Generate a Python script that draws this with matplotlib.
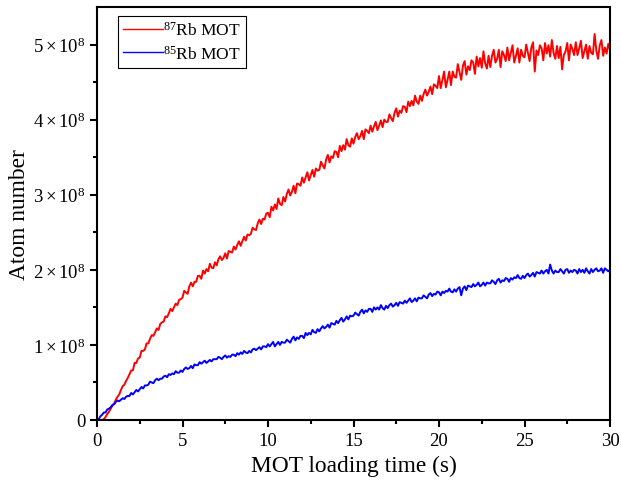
import numpy as np
import matplotlib
matplotlib.use("Agg")
import matplotlib.pyplot as plt
from matplotlib.ticker import FixedLocator, FuncFormatter

# time axis (s), 0.1 s sampling grid
time_s = [round(i * 0.1, 1) for i in range(301)]

# 87Rb MOT atom number (units of 1e8), one row per second
rb87 = [0.00, 0.00, 0.00, 0.00, 0.01, 0.04, 0.08, 0.11, 0.15, 0.19,
        0.22, 0.27, 0.31, 0.34, 0.40, 0.45, 0.47, 0.52, 0.56, 0.61,
        0.66, 0.66, 0.76, 0.76, 0.82, 0.83, 0.92, 0.92, 0.94, 1.02,
        1.02, 1.08, 1.13, 1.12, 1.17, 1.22, 1.20, 1.28, 1.30, 1.31,
        1.38, 1.37, 1.42, 1.48, 1.45, 1.50, 1.55, 1.53, 1.60, 1.61,
        1.63, 1.72, 1.70, 1.68, 1.78, 1.83, 1.78, 1.84, 1.84, 1.92,
        1.92, 1.88, 1.99, 1.95, 2.01, 1.98, 2.08, 2.03, 2.02, 2.10,
        2.06, 2.14, 2.18, 2.13, 2.16, 2.22, 2.15, 2.25, 2.24, 2.23,
        2.31, 2.27, 2.33, 2.38, 2.32, 2.38, 2.44, 2.39, 2.47, 2.46,
        2.48, 2.56, 2.54, 2.53, 2.62, 2.67, 2.61, 2.68, 2.67, 2.75,
        2.76, 2.70, 2.84, 2.79, 2.87, 2.81, 2.95, 2.88, 2.86, 2.97,
        2.91, 3.01, 3.07, 2.99, 3.04, 3.12, 3.02, 3.15, 3.14, 3.12,
        3.23, 3.16, 3.23, 3.30, 3.19, 3.26, 3.33, 3.24, 3.35, 3.32,
        3.33, 3.44, 3.39, 3.35, 3.47, 3.53, 3.43, 3.51, 3.49, 3.58,
        3.57, 3.50, 3.65, 3.58, 3.66, 3.60, 3.74, 3.66, 3.64, 3.75,
        3.68, 3.77, 3.82, 3.74, 3.78, 3.85, 3.74, 3.87, 3.85, 3.82,
        3.92, 3.84, 3.91, 3.97, 3.86, 3.92, 3.99, 3.90, 4.00, 3.97,
        3.97, 4.07, 4.02, 3.98, 4.09, 4.15, 4.04, 4.12, 4.09, 4.18,
        4.17, 4.10, 4.24, 4.18, 4.25, 4.19, 4.32, 4.24, 4.21, 4.32,
        4.25, 4.34, 4.40, 4.32, 4.37, 4.44, 4.34, 4.47, 4.45, 4.42,
        4.58, 4.42, 4.53, 4.64, 4.43, 4.53, 4.64, 4.46, 4.64, 4.57,
        4.56, 4.74, 4.63, 4.53, 4.72, 4.78, 4.60, 4.71, 4.66, 4.79,
        4.76, 4.61, 4.84, 4.71, 4.82, 4.69, 4.91, 4.75, 4.68, 4.85,
        4.70, 4.85, 4.93, 4.76, 4.81, 4.93, 4.70, 4.91, 4.86, 4.78,
        4.96, 4.79, 4.89, 4.99, 4.76, 4.85, 4.95, 4.76, 4.93, 4.85,
        4.83, 5.00, 4.89, 4.78, 4.96, 5.03, 4.64, 4.92, 4.86, 4.99,
        4.95, 4.79, 5.02, 4.88, 4.99, 4.84, 5.06, 4.89, 4.81, 4.98,
        4.82, 4.97, 4.67, 4.86, 4.91, 5.02, 4.79, 5.00, 4.94, 4.86,
        5.03, 4.86, 4.95, 5.05, 4.82, 4.91, 5.00, 4.81, 4.98, 4.89,
        4.87, 5.14, 4.92, 4.81, 4.99, 5.06, 4.85, 4.96, 4.88, 5.01,
        4.93]

# 85Rb MOT atom number (units of 1e8), one row per second
rb85 = [0.00, 0.01, 0.05, 0.07, 0.10, 0.10, 0.14, 0.15, 0.17, 0.20,
        0.21, 0.24, 0.26, 0.25, 0.27, 0.29, 0.28, 0.31, 0.32, 0.32,
        0.36, 0.34, 0.37, 0.40, 0.38, 0.41, 0.44, 0.42, 0.46, 0.46,
        0.47, 0.51, 0.50, 0.49, 0.53, 0.55, 0.53, 0.55, 0.55, 0.58,
        0.59, 0.57, 0.61, 0.60, 0.62, 0.61, 0.65, 0.63, 0.63, 0.66,
        0.64, 0.68, 0.70, 0.68, 0.69, 0.72, 0.69, 0.74, 0.73, 0.73,
        0.77, 0.75, 0.77, 0.79, 0.76, 0.78, 0.80, 0.78, 0.81, 0.81,
        0.81, 0.84, 0.83, 0.81, 0.84, 0.86, 0.83, 0.85, 0.84, 0.87,
        0.87, 0.85, 0.89, 0.87, 0.90, 0.88, 0.92, 0.90, 0.89, 0.92,
        0.90, 0.94, 0.95, 0.93, 0.95, 0.97, 0.94, 0.98, 0.98, 0.97,
        1.01, 0.98, 1.01, 1.04, 0.98, 1.01, 1.04, 1.00, 1.04, 1.03,
        1.03, 1.07, 1.05, 1.03, 1.08, 1.11, 1.06, 1.10, 1.08, 1.12,
        1.12, 1.09, 1.16, 1.13, 1.16, 1.14, 1.20, 1.17, 1.16, 1.21,
        1.18, 1.22, 1.25, 1.22, 1.24, 1.27, 1.23, 1.29, 1.28, 1.27,
        1.32, 1.29, 1.33, 1.36, 1.31, 1.34, 1.38, 1.34, 1.39, 1.38,
        1.39, 1.43, 1.41, 1.39, 1.44, 1.47, 1.42, 1.46, 1.44, 1.48,
        1.48, 1.44, 1.50, 1.47, 1.50, 1.47, 1.53, 1.49, 1.47, 1.52,
        1.49, 1.53, 1.55, 1.51, 1.53, 1.56, 1.52, 1.57, 1.56, 1.55,
        1.59, 1.56, 1.59, 1.62, 1.57, 1.59, 1.62, 1.58, 1.63, 1.62,
        1.62, 1.66, 1.64, 1.62, 1.67, 1.69, 1.65, 1.68, 1.67, 1.71,
        1.70, 1.66, 1.71, 1.69, 1.72, 1.71, 1.75, 1.71, 1.70, 1.74,
        1.71, 1.75, 1.77, 1.66, 1.75, 1.78, 1.73, 1.79, 1.78, 1.77,
        1.81, 1.78, 1.80, 1.83, 1.78, 1.80, 1.83, 1.79, 1.83, 1.82,
        1.82, 1.86, 1.84, 1.81, 1.86, 1.88, 1.83, 1.86, 1.85, 1.89,
        1.88, 1.84, 1.89, 1.87, 1.90, 1.89, 1.93, 1.89, 1.88, 1.92,
        1.89, 1.93, 1.95, 1.91, 1.93, 1.96, 1.91, 1.97, 1.96, 1.95,
        1.99, 1.95, 1.98, 2.00, 1.95, 2.07, 1.99, 1.95, 1.99, 1.97,
        1.97, 2.01, 1.98, 1.95, 2.00, 2.01, 1.96, 1.99, 1.97, 2.00,
        1.99, 1.95, 2.01, 1.97, 2.00, 1.96, 2.02, 1.98, 1.95, 2.01,
        1.97, 2.00, 2.02, 1.98, 1.99, 2.02, 1.96, 2.02, 2.00, 1.98,
        2.00]

x_ticks = [0, 5, 10, 15, 20, 25, 30]
y_ticks = [0, 1e8, 2e8, 3e8, 4e8, 5e8]

plt.rcParams['font.family'] = ['Liberation Serif', 'DejaVu Serif']
plt.rcParams['mathtext.fontset'] = 'custom'
plt.rcParams['mathtext.rm'] = 'Liberation Serif'
plt.rcParams['mathtext.it'] = 'Liberation Serif:italic'

fig = plt.figure(figsize=(6.21, 4.89), dpi=100)
ax = fig.add_axes([97/621, 68/489, 513/621, 413/489])

t = np.array(time_s)
ax.plot(t, np.array(rb87) * 1e8, color='#ff0000', lw=1.4, label=r'$^{87}$Rb MOT')
ax.plot(t, np.array(rb85) * 1e8, color='#0000ff', lw=1.4, label=r'$^{85}$Rb MOT')

ax.set_xlim(0, 30)
ax.set_ylim(0, 5.5e8)
ax.xaxis.set_major_locator(FixedLocator(x_ticks))
ax.xaxis.set_minor_locator(FixedLocator([2.5, 7.5, 12.5, 17.5, 22.5, 27.5]))
ax.yaxis.set_major_locator(FixedLocator(y_ticks))
ax.yaxis.set_minor_locator(FixedLocator([0.5e8, 1.5e8, 2.5e8, 3.5e8, 4.5e8]))

def yfmt(v, pos):
    if v == 0:
        return '0'
    return r'$%d\times10^{8}$' % round(v / 1e8)

ax.yaxis.set_major_formatter(FuncFormatter(yfmt))
ax.tick_params(axis='both', which='major', direction='out', length=5, width=1.5, labelsize=13.5)
ax.tick_params(axis='both', which='minor', direction='out', length=3, width=1.5)
for s in ax.spines.values():
    s.set_linewidth(1.5)

ax.set_xlabel('MOT loading time (s)', fontsize=16.8)
ax.set_ylabel('Atom number', fontsize=16.8, labelpad=2)

leg = ax.legend(loc='upper left', bbox_to_anchor=(0.041, 0.978), fontsize=12.5,
                frameon=True, fancybox=False, edgecolor='black', framealpha=1,
                handlelength=2.3, handletextpad=0.0, borderpad=0.3, labelspacing=0.3,
                borderaxespad=0)
leg.get_frame().set_linewidth(0.8)
for line in leg.get_lines():
    line.set_linewidth(1.0)

fig.savefig('out.png', dpi=100)
